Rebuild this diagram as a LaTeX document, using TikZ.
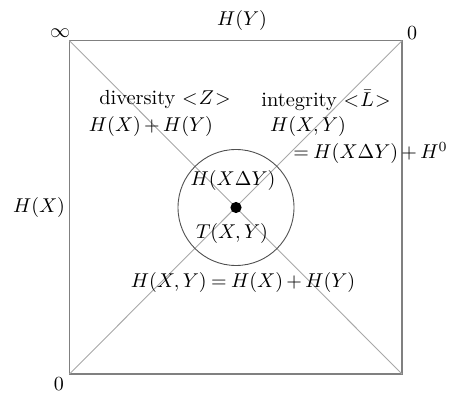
\documentclass[tikz,border=0pt]{standalone}
\usepackage{amsmath, amssymb}
\usepackage{xcolor}
\usepackage{tikz}
\usetikzlibrary{positioning, calc}

\definecolor{framegray}{HTML}{808080}
\definecolor{diaggray}{HTML}{A8A8A8}
\definecolor{ringgray}{HTML}{505050}
\AtBeginDocument{\medmuskip=3mu \thickmuskip=4mu}

\begin{document}
\begin{tikzpicture}[
    x=0.5pt, y=-0.5pt,
    frame/.style={draw=framegray, line width=0.6pt},
    diag/.style={draw=diaggray, line width=0.45pt},
    ring/.style={circle, draw=ringgray, line width=0.45pt, minimum size=58pt, inner sep=0pt},
    lbl/.style={inner sep=1pt, align=center, font=\fontsize{10.2}{12}\selectfont},
  ]
  \useasboundingbox (0,0) rectangle (455,395);

  % Corners and centre
  \coordinate (tl) at (69.5,40.7);
  \coordinate (tr) at (402,40.7);
  \coordinate (bl) at (69.5,374);
  \coordinate (br) at (402,374);
  \coordinate (mid) at (236,207.5);

  % Square and diagonals
  \draw[frame] (tl) rectangle (br);
  \draw[diag] (tl) -- (br);
  \draw[diag] (tr) -- (bl);

  % Ring round the centre
  \node[ring] (core) at (mid) {};
  \fill (mid) circle (2.8pt);

  % Corner and side labels
  \node[lbl] (inf) at (60,33) {$\infty$};
  \node[lbl] (zerotr) at (412,33) {$0$};
  \node[lbl] (zerobl) at (59,384) {$0$};
  \node[lbl] (hy) at (242,21) {$H(Y)$};
  \node[lbl] (hx) at (39,208) {$H(X)$};

  % Diversity and integrity
  \node[lbl] (div) at (165,100) {diversity $<\!Z\!>$};
  \node[lbl] (divsum) at (151,127) {$H(X)+H(Y)$};
  \node[lbl] (integ) at (326,100) {integrity $<\!\bar{L}\!>$};
  \node[lbl] (joint) at (308,127) {$H(X,Y)$};
  \node[lbl, anchor=east] (jointeq) at (450,153) {$=H(X\Delta Y)+H^{0}$};

  % Inside and below the ring
  \node[lbl] (symdiff) at (233,181) {$H(X\Delta Y)$};
  \node[lbl] (trans) at (232,234) {$T(X,Y)$};
  \node[lbl] (indep) at (243,282) {$H(X,Y)=H(X)+H(Y)$};

\end{tikzpicture}
\end{document}
